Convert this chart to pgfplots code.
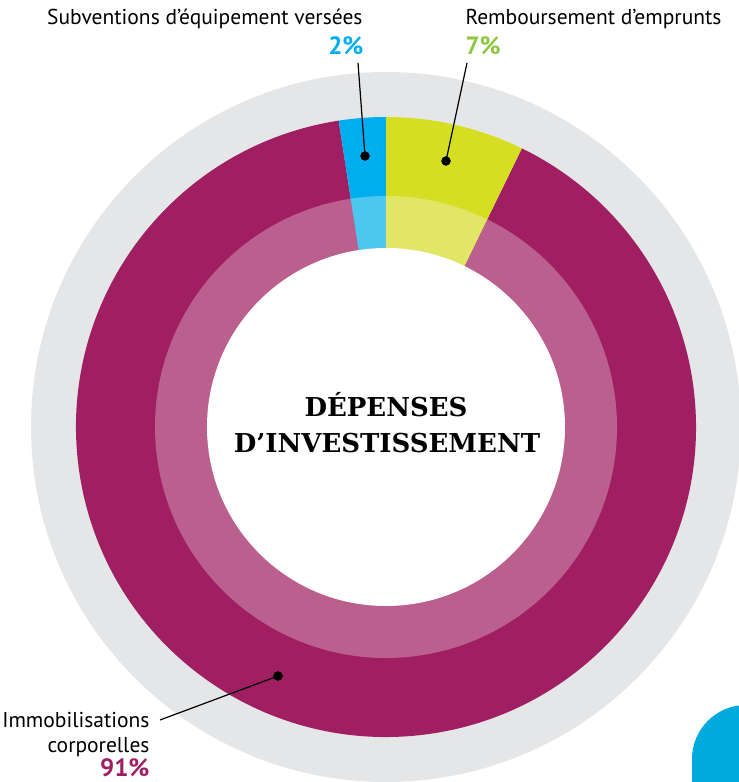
\documentclass[border=0pt]{standalone}
\usepackage{pgfplots}
\pgfplotsset{compat=1.18}
\usepackage{fontspec}
\setmainfont{PT Sans}
\newfontfamily\titlefont{DejaVu Serif}
\definecolor{ringgray}{HTML}{E5E6E8}
\definecolor{magD}{HTML}{A01E62}
\definecolor{magL}{HTML}{BA5F8E}
\definecolor{bluD}{HTML}{00AEEF}
\definecolor{bluL}{HTML}{4DC6F0}
\definecolor{yelD}{HTML}{D5DE23}
\definecolor{yelL}{HTML}{E1E666}
\definecolor{greenT}{HTML}{8DC63F}
\definecolor{cornerblue}{HTML}{00AADD}
% shares of the ring (percent)
\def\pBlue{2.44}
\def\pYel{7.22}
\begin{document}
\begin{tikzpicture}
\begin{axis}[
  scale only axis, width=739pt, height=782pt,
  xmin=0, xmax=739, ymin=0, ymax=782,
  hide axis, clip=false]
\pgfmathsetmacro{\aBlue}{90+3.6*\pBlue}
\pgfmathsetmacro{\aYel}{90-3.6*\pYel}
\pgfmathsetmacro{\aMagEnd}{\aYel+360}
% corner decoration
\fill[cornerblue] (axis cs:692,-30) -- (axis cs:692,23) arc[start angle=180,end angle=90,radius=54pt] -- (axis cs:800,77) -- (axis cs:800,-30) -- cycle;
% gray background disc
\fill[ringgray] (axis cs:386,355) circle[radius=355pt];
% outer ring (dark)
\fill[magD] (axis cs:386,355) -- ++(\aBlue:310pt) arc[start angle=\aBlue,end angle=\aMagEnd,radius=310pt] -- cycle;
\fill[bluD] (axis cs:386,355) -- ++(90:310pt) arc[start angle=90,end angle=\aBlue,radius=310pt] -- cycle;
\fill[yelD] (axis cs:386,355) -- ++(\aYel:310pt) arc[start angle=\aYel,end angle=90,radius=310pt] -- cycle;
% inner ring (light)
\fill[magL] (axis cs:386,355) -- ++(\aBlue:231pt) arc[start angle=\aBlue,end angle=\aMagEnd,radius=231pt] -- cycle;
\fill[bluL] (axis cs:386,355) -- ++(90:231pt) arc[start angle=90,end angle=\aBlue,radius=231pt] -- cycle;
\fill[yelL] (axis cs:386,355) -- ++(\aYel:231pt) arc[start angle=\aYel,end angle=90,radius=231pt] -- cycle;
% hole
\fill[white] (axis cs:386,355) circle[radius=179pt];
% title
\node[anchor=base, font=\titlefont\bfseries\fontsize{26}{30}\selectfont] at (axis cs:386,365) {DÉPENSES};
\node[anchor=base, font=\titlefont\bfseries\fontsize{26}{30}\selectfont] at (axis cs:387,329) {D’INVESTISSEMENT};
% leader lines
\addplot[black, line width=1.2pt] coordinates {(358,719) (365,626)};
\addplot[black, line width=1.2pt] coordinates {(467,719) (446,621)};
\addplot[black, line width=1.2pt] coordinates {(160,62) (278,106)};
\addplot[only marks, mark=*, mark size=4.5pt, black] coordinates {(365,626) (446,621) (278,106)};
% labels
\node[anchor=base east, font=\fontsize{21.5}{25}\selectfont] at (axis cs:366,757) {Subventions d’équipement versées};
\node[anchor=base east, font=\bfseries\fontsize{25}{28}\selectfont, text=bluD] at (axis cs:367,727) {2\%};
\node[anchor=base west, font=\fontsize{21.5}{25}\selectfont] at (axis cs:462,757) {Remboursement d’emprunts};
\node[anchor=base west, font=\bfseries\fontsize{25}{28}\selectfont, text=greenT] at (axis cs:462,727) {7\%};
\node[anchor=base east, font=\fontsize{21.5}{25}\selectfont] at (axis cs:153,55) {Immobilisations};
\node[anchor=base east, font=\fontsize{21.5}{25}\selectfont] at (axis cs:153,30) {corporelles};
\node[anchor=base east, font=\bfseries\fontsize{25}{28}\selectfont, text=magD] at (axis cs:153,6) {91\%};
\end{axis}
\pgfresetboundingbox
\path (0,0) rectangle (739pt,782pt);
\end{tikzpicture}
\end{document}
